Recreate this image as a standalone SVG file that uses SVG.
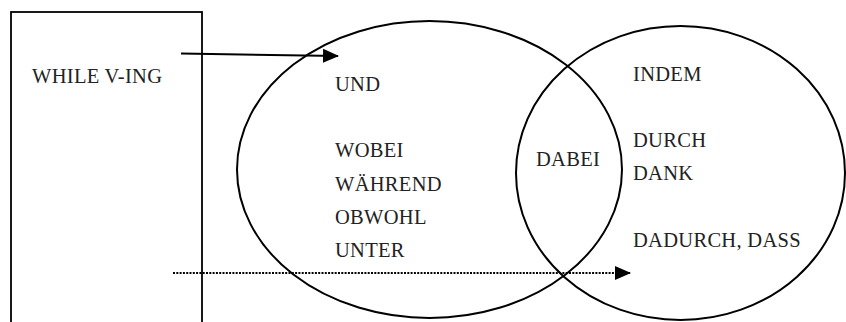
<svg xmlns="http://www.w3.org/2000/svg" width="846" height="322" viewBox="0 0 846 322">
  <style>
    .shape { fill: none; stroke: #000; stroke-width: 2; }
    .box { fill: none; stroke: #000; stroke-width: 1.8; }
    .lbl { font-family: "Liberation Serif", "Times New Roman", serif; font-size: 20.5px; letter-spacing: 0.3px; fill: #222; }
    .solid { stroke: #000; stroke-width: 2; fill: none; }
    .dotted { stroke: #000; stroke-width: 2; fill: none; stroke-dasharray: 2 1.3; }
  </style>
  <defs>
    <marker id="head" markerWidth="16" markerHeight="16" viewBox="0 0 16 14" refX="15" refY="7" orient="auto" markerUnits="userSpaceOnUse">
      <path d="M0,0 L16,7 L0,14 Z" fill="#000"/>
    </marker>
  </defs>
  <rect width="846" height="322" fill="#fff"/>

  <g id="while-box">
    <rect class="box" x="11" y="12" width="191" height="330"/>
    <text class="lbl" x="32" y="83">WHILE V-ING</text>
  </g>

  <g id="left-set">
    <ellipse class="shape" cx="429.5" cy="169.5" rx="192.5" ry="148.5"/>
    <text class="lbl" x="335" y="91">UND</text>
    <text class="lbl" x="335" y="157">WOBEI</text>
    <text class="lbl" x="335" y="190.5">WÄHREND</text>
    <text class="lbl" x="335" y="224">OBWOHL</text>
    <text class="lbl" x="335" y="257">UNTER</text>
  </g>

  <g id="right-set">
    <ellipse class="shape" cx="680.5" cy="173" rx="164.5" ry="147"/>
    <text class="lbl" x="633" y="81">INDEM</text>
    <text class="lbl" x="633" y="147">DURCH</text>
    <text class="lbl" x="633" y="180">DANK</text>
    <text class="lbl" x="633" y="247">DADURCH, DASS</text>
  </g>

  <g id="overlap">
    <text class="lbl" x="536" y="166">DABEI</text>
  </g>

  <g id="connectors">
    <line class="solid" x1="181" y1="53.5" x2="338" y2="56" marker-end="url(#head)"/>
    <line class="dotted" x1="173" y1="273" x2="630" y2="273" marker-end="url(#head)"/>
  </g>
</svg>
